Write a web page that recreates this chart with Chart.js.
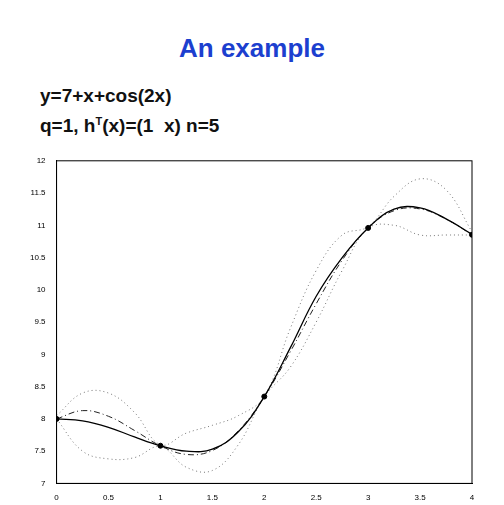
<!DOCTYPE html>
<html><head><meta charset="utf-8">
<script src="https://cdn.jsdelivr.net/npm/chart.js@4"></script>
<style>
body{margin:0;background:#fff;font-family:"Liberation Sans",Arial,sans-serif;overflow:hidden;}
#t{position:absolute;left:0;width:504px;top:33px;text-align:center;color:#1c3fcf;font-weight:bold;font-size:26px;}
.l{position:absolute;left:40px;font-weight:bold;font-size:19px;color:#111;}
#c{position:absolute;left:27px;top:153px;}
</style></head><body>
<div id="t">An example</div>
<div class="l" style="top:85px">y=7+x+cos(2x)</div>
<div class="l" style="top:115px">q=1, h<sup style="font-size:11px">T</sup>(x)=(1&nbsp; x) n=5</div>
<div id="c"><canvas id="g" width="454" height="352"></canvas></div>
<script>
const xs = [0,0.25,0.5,0.75,1,1.25,1.5,1.75,2,2.25,2.5,2.75,3,3.25,3.5,3.75,4];
const trueY = [8,8.128,8.04,7.821,7.584,7.449,7.51,7.814,8.346,9.039,9.784,10.459,10.96,11.227,11.254,11.097,10.854];
const meanY = [8,7.97,7.87,7.72,7.584,7.5,7.53,7.8,8.346,9.1,9.9,10.5,10.96,11.25,11.27,11.1,10.86];
const upperY = [8.05,8.4,8.4,8.1,7.6,7.78,7.9,8.05,8.35,9.4,10.3,10.85,10.98,11.45,11.72,11.55,10.9];
const lowerY = [8,7.5,7.38,7.4,7.57,7.25,7.2,7.6,8.34,8.8,9.5,10.3,10.95,11.0,10.85,10.85,10.85];
const obsX = [0,1,2,3,4];
const obsY = [8,7.584,8.346,10.96,10.854];
const pts = ys => xs.map((x,i)=>({x:x,y:ys[i]}));
const fmt = v => String(v);
new Chart(document.getElementById('g'),{
  type:'line',
  data:{datasets:[
    {data:obsX.map((x,i)=>({x:x,y:obsY[i]})),showLine:false,pointRadius:2.5,backgroundColor:'#000',borderColor:'#000'},
    {data:pts(meanY),borderColor:'#000',borderWidth:1.3,pointRadius:0,tension:0.4},
    {data:pts(trueY),borderColor:'#222',borderWidth:1,borderDash:[6,3,1,3],pointRadius:0,tension:0.4},
    {data:pts(upperY),borderColor:'#777',borderWidth:1,borderDash:[1,3],pointRadius:0,tension:0.4},
    {data:pts(lowerY),borderColor:'#777',borderWidth:1,borderDash:[1,3],pointRadius:0,tension:0.4}
  ]},
  options:{responsive:false,animation:false,layout:{padding:{top:7,right:9,bottom:0,left:0}},
    plugins:{legend:{display:false},tooltip:{enabled:false}},
    scales:{
      x:{type:'linear',min:0,max:4,ticks:{stepSize:0.5,font:{size:8},color:'#000',padding:2,callback:fmt},grid:{display:false},border:{color:'#000'}},
      y:{min:7,max:12,ticks:{stepSize:0.5,font:{size:8},color:'#000',callback:fmt},grid:{display:false},border:{color:'#000'}}
    }
  },
  plugins:[{id:'box',afterDraw(c){const a=c.chartArea,x=c.ctx;x.save();x.strokeStyle='#000';x.lineWidth=1;
    x.strokeRect(a.left,a.top,a.right-a.left,a.bottom-a.top);x.restore();}}]
});
</script>
</body></html>
